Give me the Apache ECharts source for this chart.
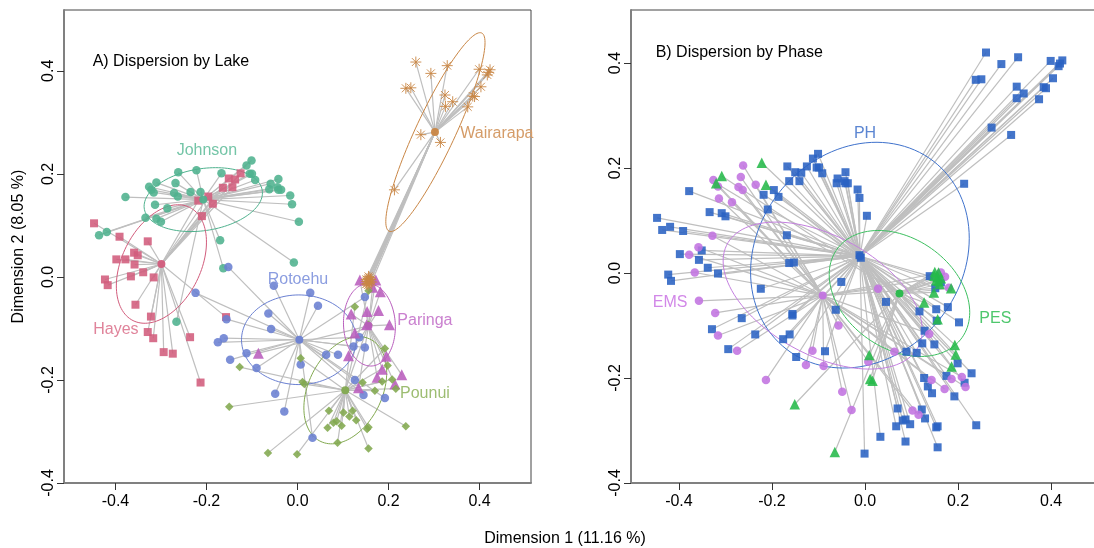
<!DOCTYPE html>
<html><head><meta charset="utf-8">
<script src="https://cdn.jsdelivr.net/npm/echarts@6/dist/echarts.min.js"></script>
<style>html,body{margin:0;padding:0;background:#fff;overflow:hidden}#c{width:1094px;height:548px}</style>
</head><body><div id="c"></div>
<script>
// Panel A: by lake
const johnson=[[-0.101,0.226],[-0.112,0.216],[-0.262,0.203],[-0.222,0.207],[-0.167,0.201],[-0.105,0.200],[-0.100,0.200],[-0.093,0.188],[-0.042,0.190],[-0.059,0.181],[-0.062,0.170],[-0.044,0.174],[-0.042,0.169],[-0.036,0.169],[-0.016,0.158],[-0.012,0.141],[0.003,0.107],[-0.326,0.175],[-0.310,0.183],[-0.321,0.169],[-0.316,0.164],[-0.268,0.182],[-0.271,0.163],[-0.263,0.156],[-0.235,0.165],[-0.213,0.165],[-0.378,0.155],[-0.313,0.140],[-0.286,0.133],[-0.334,0.115],[-0.310,0.113],[-0.300,0.107],[-0.419,0.087],[-0.436,0.081],[-0.170,0.071],[-0.163,0.017],[-0.266,-0.087],[-0.008,0.028]];
const hayes=[[-0.125,0.201],[-0.151,0.191],[-0.137,0.189],[-0.164,0.173],[-0.143,0.174],[-0.196,0.156],[-0.186,0.142],[-0.218,0.148],[-0.210,0.118],[-0.447,0.104],[-0.391,0.078],[-0.329,0.069],[-0.359,0.047],[-0.351,0.042],[-0.398,0.034],[-0.378,0.034],[-0.358,0.024],[-0.339,0.009],[-0.366,0.001],[-0.423,-0.005],[-0.417,-0.016],[-0.316,-0.001],[-0.356,-0.054],[-0.322,-0.077],[-0.329,-0.107],[-0.317,-0.119],[-0.294,-0.146],[-0.274,-0.149],[-0.236,-0.117],[-0.157,-0.078],[-0.213,-0.205]];
const rotoehu=[[-0.152,0.019],[-0.052,-0.017],[-0.224,-0.031],[-0.064,-0.071],[-0.058,-0.101],[-0.156,-0.082],[-0.162,-0.119],[-0.175,-0.127],[-0.148,-0.161],[-0.112,-0.148],[-0.090,-0.177],[-0.049,-0.227],[-0.029,-0.261],[0.028,-0.031],[0.045,-0.056],[0.148,-0.039],[0.136,-0.117],[0.123,-0.135],[0.148,-0.137],[0.063,-0.151],[0.089,-0.151],[0.007,-0.170],[0.126,-0.200],[0.145,-0.229],[0.192,-0.235],[0.033,-0.312]];
const pounui=[[0.126,-0.058],[0.156,-0.027],[0.156,-0.093],[0.192,-0.139],[0.007,-0.158],[0.198,-0.172],[0.011,-0.204],[0.015,-0.208],[0.143,-0.205],[0.186,-0.203],[0.208,-0.199],[0.170,-0.221],[0.216,-0.217],[0.238,-0.290],[0.069,-0.260],[0.101,-0.263],[0.121,-0.260],[0.114,-0.271],[0.129,-0.278],[0.086,-0.280],[0.079,-0.283],[0.066,-0.293],[0.097,-0.289],[0.153,-0.295],[0.156,-0.292],[0.088,-0.322],[0.156,-0.333],[-0.001,-0.344],[-0.127,-0.175],[-0.150,-0.252],[-0.065,-0.342]];
const paringa=[[0.137,-0.006],[0.172,-0.006],[0.182,-0.029],[0.165,-0.020],[0.178,-0.065],[0.153,-0.067],[0.118,-0.072],[0.202,-0.093],[0.152,-0.093],[0.126,-0.109],[0.112,-0.153],[0.195,-0.154],[0.186,-0.179],[0.229,-0.190],[0.175,-0.195],[0.214,-0.208],[0.134,-0.215],[-0.086,-0.148]];
const wairarapa=[[0.260,0.417],[0.293,0.395],[0.329,0.410],[0.238,0.366],[0.249,0.367],[0.324,0.353],[0.341,0.340],[0.325,0.331],[0.374,0.330],[0.385,0.351],[0.389,0.350],[0.403,0.369],[0.399,0.403],[0.417,0.392],[0.423,0.402],[0.420,0.397],[0.271,0.276],[0.314,0.261],[0.213,0.169],[0.152,-0.009],[0.155,-0.003],[0.159,-0.008],[0.153,-0.013],[0.158,-0.012],[0.161,-0.005],[0.151,-0.005],[0.156,0.001],[0.163,-0.010],[0.155,-0.016],[0.159,-0.001],[0.151,-0.014]];
// Panel B: by phase
const pes=[[-0.222,0.210],[-0.308,0.185],[-0.320,0.171],[-0.213,0.168],[-0.151,-0.250],[-0.065,-0.341],[0.009,-0.156],[0.011,-0.202],[0.016,-0.205],[0.158,0.001],[0.156,-0.007],[0.158,-0.015],[0.160,-0.021],[0.153,-0.014],[0.148,-0.037],[0.185,-0.029],[0.127,-0.056],[0.156,-0.088],[0.193,-0.137],[0.195,-0.155],[0.186,-0.178],[0.150,0.002],[0.163,-0.010],[0.149,-0.005]];
const ems=[[-0.262,0.205],[-0.267,0.183],[-0.326,0.177],[-0.316,0.165],[-0.235,0.168],[-0.272,0.164],[-0.263,0.158],[-0.314,0.142],[-0.286,0.135],[-0.328,0.071],[-0.358,0.049],[-0.378,0.035],[-0.366,0.001],[-0.357,-0.053],[-0.322,-0.076],[-0.316,-0.119],[-0.275,-0.148],[-0.213,-0.204],[-0.113,-0.148],[-0.127,-0.175],[-0.089,-0.177],[-0.057,-0.100],[-0.049,-0.226],[-0.029,-0.261],[0.028,-0.030],[0.163,0.001],[0.172,-0.007],[0.180,-0.028],[0.138,-0.116],[0.007,-0.169],[0.063,-0.150],[0.143,-0.204],[0.186,-0.202],[0.208,-0.198],[0.171,-0.221],[0.216,-0.217],[0.102,-0.262],[0.115,-0.270]];
const ph=[[-0.101,0.227],[-0.112,0.218],[-0.167,0.203],[-0.125,0.203],[-0.104,0.201],[-0.099,0.201],[-0.092,0.190],[-0.150,0.192],[-0.137,0.191],[-0.163,0.175],[-0.141,0.175],[-0.042,0.192],[-0.059,0.180],[-0.061,0.171],[-0.044,0.175],[-0.042,0.171],[-0.037,0.171],[-0.016,0.159],[-0.012,0.143],[0.004,0.109],[-0.378,0.156],[-0.196,0.158],[-0.218,0.149],[-0.186,0.145],[-0.209,0.121],[-0.334,0.116],[-0.308,0.114],[-0.300,0.108],[-0.447,0.105],[-0.419,0.088],[-0.436,0.082],[-0.391,0.080],[-0.168,0.072],[-0.351,0.043],[-0.398,0.036],[-0.357,0.025],[-0.338,0.010],[-0.423,-0.003],[-0.417,-0.015],[-0.316,-0.001],[-0.163,0.019],[-0.153,0.020],[-0.051,-0.017],[-0.224,-0.030],[-0.009,0.029],[-0.012,0.034],[-0.265,-0.086],[-0.156,-0.078],[-0.156,-0.081],[-0.063,-0.070],[-0.329,-0.107],[-0.236,-0.117],[-0.294,-0.145],[-0.176,-0.126],[-0.162,-0.117],[-0.148,-0.160],[-0.086,-0.149],[0.070,-0.258],[0.122,-0.260],[0.087,-0.279],[0.081,-0.281],[0.097,-0.288],[0.129,-0.277],[0.067,-0.292],[0.153,-0.294],[0.156,-0.292],[0.239,-0.290],[0.033,-0.312],[0.087,-0.321],[0.156,-0.332],[-0.001,-0.344],[0.127,-0.200],[0.135,-0.216],[0.144,-0.229],[0.192,-0.235],[0.175,-0.196],[0.214,-0.209],[0.229,-0.191],[0.199,-0.172],[0.123,-0.134],[0.149,-0.136],[0.089,-0.150],[0.111,-0.152],[0.139,-0.006],[0.151,-0.029],[0.163,-0.018],[0.045,-0.055],[0.117,-0.073],[0.153,-0.069],[0.178,-0.065],[0.202,-0.094],[0.154,-0.091],[0.128,-0.110],[0.260,0.420],[0.293,0.398],[0.329,0.411],[0.238,0.368],[0.250,0.369],[0.326,0.355],[0.341,0.342],[0.326,0.333],[0.374,0.331],[0.384,0.354],[0.389,0.352],[0.404,0.371],[0.399,0.404],[0.416,0.394],[0.419,0.399],[0.424,0.405],[0.272,0.277],[0.314,0.263],[0.213,0.170]];
// Group centroids
const centroidsA={Johnson:[-0.207,0.150],Hayes:[-0.299,0.025],Rotoehu:[0.004,-0.122],Paringa:[0.156,-0.095],Pounui:[0.105,-0.220],Wairarapa:[0.302,0.281]};
const centroidsB={PH:[-0.011,0.032],EMS:[-0.091,-0.043],PES:[0.074,-0.039]};
// Ellipses: [centre x, centre y, x half-extent, y half-extent, correlation]
const ellipsesA={Johnson:[-0.207,0.150,0.130,0.062,0.21],Hayes:[-0.299,0.025,0.099,0.115,0.37],Rotoehu:[0.003,-0.122,0.126,0.087,0],Paringa:[0.158,-0.093,0.057,0.080,-0.05],Pounui:[0.105,-0.220,0.091,0.104,0.33],Wairarapa:[0.303,0.281,0.109,0.193,0.90]};
const ellipsesB={PH:[-0.011,0.034,0.235,0.215,0.15],EMS:[-0.091,-0.043,0.214,0.140,-0.47],PES:[0.074,-0.039,0.151,0.120,-0.30]};
// Text anchors
const labelPosA={Johnson:[-0.199,0.246],Hayes:[-0.399,-0.103],Rotoehu:[0.001,-0.006],Paringa:[0.280,-0.084],Pounui:[0.280,-0.227],Wairarapa:[0.438,0.278]};
const labelPosB={PH:[0,0.265],EMS:[-0.419,-0.057],PES:[0.280,-0.086]};
const panelPosA=[-0.450,0.418], panelPosB=[-0.450,0.419];
const ticksX=[-0.4,-0.2,0,0.2,0.4], ticksY=[-0.4,-0.2,0,0.2,0.4];
const xTitle='Dimension 1 (11.16 %)', yTitle='Dimension 2 (8.05 %)';
const panelA='A) Dispersion by Lake', panelB='B) Dispersion by Phase';

const FONT='"Liberation Sans",Arial,sans-serif', FS=16;
const STAR='path://M-5,0L5,0M0,-5L0,5M-3.6,-3.6L3.6,3.6M-3.6,3.6L3.6,-3.6';
const SPIDER='#bfbfbf';

const groupsA=[
 {n:'Johnson',d:johnson,c:'#4fb28e',t:'#74c5a7',s:'circle',z:8.5},
 {n:'Hayes',d:hayes,c:'#d25c7c',t:'#e0849b',s:'rect',z:8},
 {n:'Rotoehu',d:rotoehu,c:'#6a80d2',t:'#8b9de0',s:'circle',z:8.5},
 {n:'Paringa',d:paringa,c:'#b95dbd',t:'#ca80cf',s:'triangle',z:11},
 {n:'Pounui',d:pounui,c:'#82a94f',t:'#9dbd72',s:'diamond',z:8.5},
 {n:'Wairarapa',d:wairarapa,c:'#c98645',t:'#d59c68',s:STAR,z:11,star:true}];
const groupsB=[
 {n:'PH',d:ph,c:'#2a62c3',t:'#5c86d2',s:'rect',z:8,e:'#3f72cc'},
 {n:'EMS',d:ems,c:'#c273e0',t:'#d288e8',s:'circle',z:8.5,e:'#c47fe0'},
 {n:'PES',d:pes,c:'#26b94a',t:'#4fc76d',s:'triangle',z:10.5,e:'#3dc060'}];

function ellipseItem(par,color,idx){
 return {type:'custom',xAxisIndex:idx,yAxisIndex:idx,z:3,silent:true,clip:false,data:[par],
  encode:{x:0,y:1},
  renderItem(p,api){
   const cx=api.value(0),cy=api.value(1),rx=api.value(2),ry=api.value(3),r=api.value(4),pts=[];
   const q=Math.sqrt(1-r*r);
   for(let i=0;i<=120;i++){const t=i/120*2*Math.PI;
    pts.push(api.coord([cx+rx*Math.cos(t),cy+ry*(r*Math.cos(t)+q*Math.sin(t))]));}
   return {type:'polyline',shape:{points:pts},style:{stroke:color,fill:null,lineWidth:1}};
  }};
}
function textItem(name,pos,color,idx,align){
 return {type:'custom',xAxisIndex:idx,yAxisIndex:idx,z:6,silent:true,clip:false,data:[pos],encode:{x:0,y:1},
  renderItem(p,api){const c=api.coord([api.value(0),api.value(1)]);
   return {type:'text',x:c[0],y:c[1],style:{text:name,fill:color,font:FS+'px '+FONT,align:align||'center',verticalAlign:'middle'}};}};
}
function build(groups,cents,ells,labs,idx){
 const out=[];
 groups.forEach(g=>{
  out.push({type:'lines',coordinateSystem:'cartesian2d',xAxisIndex:idx,yAxisIndex:idx,z:2,silent:true,
   lineStyle:{color:SPIDER,width:1.2,opacity:1},
   data:g.d.map(p=>({coords:[p,cents[g.n]]}))});
 });
 groups.forEach(g=>{out.push(ellipseItem(ells[g.n],g.e||g.c,idx));});
 groups.forEach(g=>{
  out.push({type:'scatter',name:g.n,xAxisIndex:idx,yAxisIndex:idx,z:4,silent:true,data:g.d,symbol:g.s,symbolSize:g.z,
   itemStyle:g.star?{color:'rgba(0,0,0,0)',borderColor:g.c,borderWidth:1,opacity:0.9}:{color:g.c,opacity:0.88}});
  out.push({type:'scatter',xAxisIndex:idx,yAxisIndex:idx,z:5,silent:true,data:[cents[g.n]],symbol:'circle',symbolSize:8,
   itemStyle:{color:g.c,opacity:0.95}});
  out.push(textItem(g.n,labs[g.n],g.t,idx));
 });
 return out;
}
const fmt=v=>Math.abs(v)<1e-9?'0.0':v.toFixed(1);
function xAxis(i,min,max){return {type:'value',gridIndex:i,min,max,splitLine:{show:false},
  axisLine:{show:true,onZero:false,lineStyle:{color:'#808080',width:2}},
  axisTick:{show:true,length:7,customValues:ticksX,lineStyle:{color:'#333',width:1}},
  axisLabel:{customValues:ticksX,formatter:fmt,color:'#000',fontFamily:FONT,fontSize:FS,margin:11}};}
function yAxis(i,min,max,name){const o={type:'value',gridIndex:i,min,max,splitLine:{show:false},
  axisLine:{show:true,onZero:false,lineStyle:{color:'#808080',width:2}},
  axisTick:{show:true,length:7,customValues:ticksY,lineStyle:{color:'#333',width:1}},
  axisLabel:{customValues:ticksY,formatter:fmt,rotate:90,color:'#000',fontFamily:FONT,fontSize:FS,margin:7}};
  if(name){o.name=name;o.nameLocation='middle';o.nameGap=37;o.nameTextStyle={color:'#000',fontFamily:FONT,fontSize:FS};}
  return o;}
const chart=echarts.init(document.getElementById('c'),null,{renderer:'canvas'});
chart.setOption({
 animation:false,backgroundColor:'#fff',
 title:{text:xTitle,left:565,top:531,textAlign:'center',padding:0,textStyle:{color:'#000',fontFamily:FONT,fontSize:FS,fontWeight:'normal'}},
 grid:[
  {left:64,top:10,width:467,height:473,show:true,outerBoundsMode:'none',borderColor:'#444',borderWidth:1,backgroundColor:'transparent'},
  {left:631,top:10,width:469,height:473,show:true,outerBoundsMode:'none',borderColor:'#444',borderWidth:1,backgroundColor:'transparent'}],
 xAxis:[xAxis(0,-0.513,0.513),xAxis(1,-0.503,0.505)],
 yAxis:[yAxis(0,-0.4,0.518,yTitle),yAxis(1,-0.4,0.501)],
 series:[
  ...build(groupsA,centroidsA,ellipsesA,labelPosA,0),
  ...build(groupsB,centroidsB,ellipsesB,labelPosB,1),
  textItem(panelA,panelPosA,'#000',0,'left'),
  textItem(panelB,panelPosB,'#000',1,'left')]
});
</script>
</body></html>
